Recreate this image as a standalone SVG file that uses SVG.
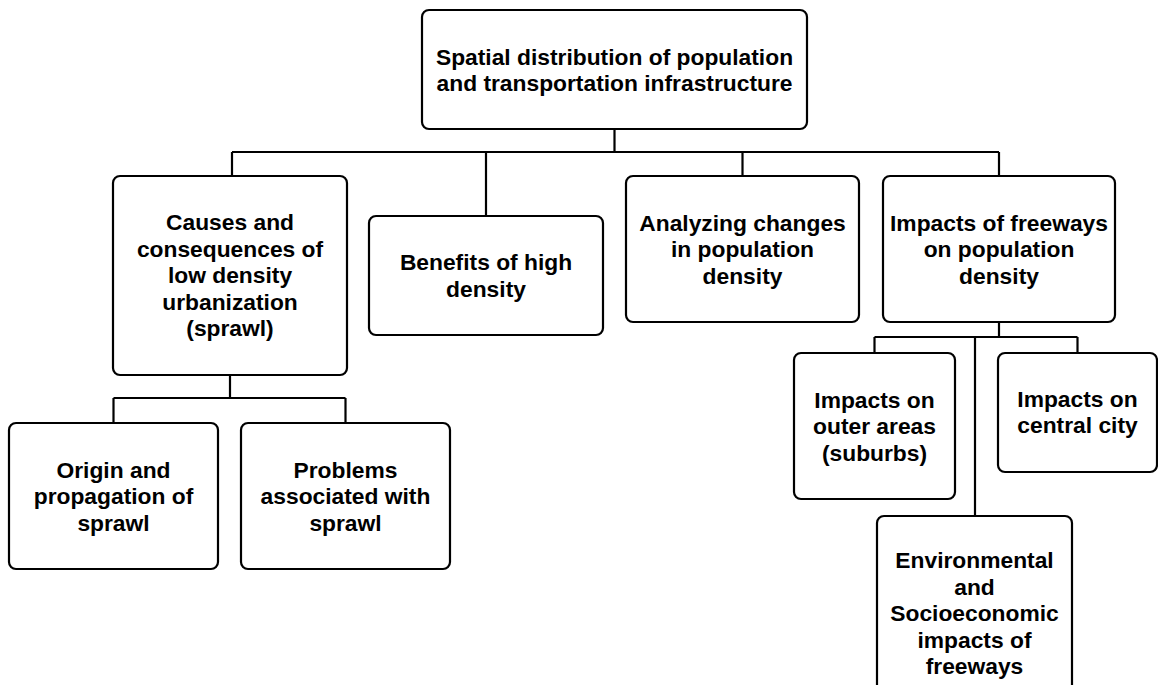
<svg xmlns="http://www.w3.org/2000/svg" width="1158" height="685" viewBox="0 0 1158 685">
<style>
.box{fill:#fff;stroke:#000;stroke-width:2.2}
.t{font-family:"Liberation Sans",Arial,sans-serif;font-weight:bold;font-size:22.8px;fill:#000;text-anchor:middle}
.c{fill:none;stroke:#000;stroke-width:2.2}
</style>
<rect width="1158" height="685" fill="#fff"/>
<g id="connectors">
<path class="c" d="M614.5,129V152M232,152H999M232,152V176M486,152V216M742.5,152V176M999,152V176"/>
<path class="c" d="M230,375V398M113.5,398H345.5M113.5,398V423M345.5,398V423"/>
<path class="c" d="M999,322V337M874.5,337H1077.5M874.5,337V353M1077.5,337V353M975,337V516"/>
</g>
<g id="root">
<rect class="box" x="422" y="10" width="385" height="119" rx="7"/>
<text class="t" x="614.5" y="64.5"><tspan x="614.5">Spatial distribution of population</tspan><tspan x="614.5" dy="26.5">and transportation infrastructure</tspan></text>
</g>
<g id="causes">
<rect class="box" x="113" y="176" width="234" height="199" rx="7"/>
<text class="t" x="230" y="230"><tspan x="230">Causes and</tspan><tspan x="230" dy="26.5">consequences of</tspan><tspan x="230" dy="26.5">low density</tspan><tspan x="230" dy="26.5">urbanization</tspan><tspan x="230" dy="26.5">(sprawl)</tspan></text>
</g>
<g id="benefits">
<rect class="box" x="369" y="216" width="234" height="119" rx="7"/>
<text class="t" x="486" y="270"><tspan x="486">Benefits of high</tspan><tspan x="486" dy="26.5">density</tspan></text>
</g>
<g id="analyzing">
<rect class="box" x="626" y="176" width="233" height="146" rx="7"/>
<text class="t" x="742.5" y="230.5"><tspan x="742.5">Analyzing changes</tspan><tspan x="742.5" dy="26.5">in population</tspan><tspan x="742.5" dy="26.5">density</tspan></text>
</g>
<g id="impacts">
<rect class="box" x="883" y="176" width="232" height="146" rx="7"/>
<text class="t" x="999" y="230.5"><tspan x="999">Impacts of freeways</tspan><tspan x="999" dy="26.5">on population</tspan><tspan x="999" dy="26.5">density</tspan></text>
</g>
<g id="origin">
<rect class="box" x="9" y="423" width="209" height="146" rx="7"/>
<text class="t" x="113.5" y="477.5"><tspan x="113.5">Origin and</tspan><tspan x="113.5" dy="26.5">propagation of</tspan><tspan x="113.5" dy="26.5">sprawl</tspan></text>
</g>
<g id="problems">
<rect class="box" x="241" y="423" width="209" height="146" rx="7"/>
<text class="t" x="345.5" y="477.5"><tspan x="345.5">Problems</tspan><tspan x="345.5" dy="26.5">associated with</tspan><tspan x="345.5" dy="26.5">sprawl</tspan></text>
</g>
<g id="outer">
<rect class="box" x="794" y="353" width="161" height="146" rx="7"/>
<text class="t" x="874.5" y="407.5"><tspan x="874.5">Impacts on</tspan><tspan x="874.5" dy="26.5">outer areas</tspan><tspan x="874.5" dy="26.5">(suburbs)</tspan></text>
</g>
<g id="central">
<rect class="box" x="998" y="353" width="159" height="119" rx="7"/>
<text class="t" x="1077.5" y="406.5"><tspan x="1077.5">Impacts on</tspan><tspan x="1077.5" dy="26.5">central city</tspan></text>
</g>
<g id="environmental">
<rect class="box" x="877" y="516" width="195" height="190" rx="7"/>
<text class="t" x="974.5" y="568"><tspan x="974.5">Environmental</tspan><tspan x="974.5" dy="26.5">and</tspan><tspan x="974.5" dy="26.5">Socioeconomic</tspan><tspan x="974.5" dy="26.5">impacts of</tspan><tspan x="974.5" dy="26.5">freeways</tspan></text>
</g>
</svg>
